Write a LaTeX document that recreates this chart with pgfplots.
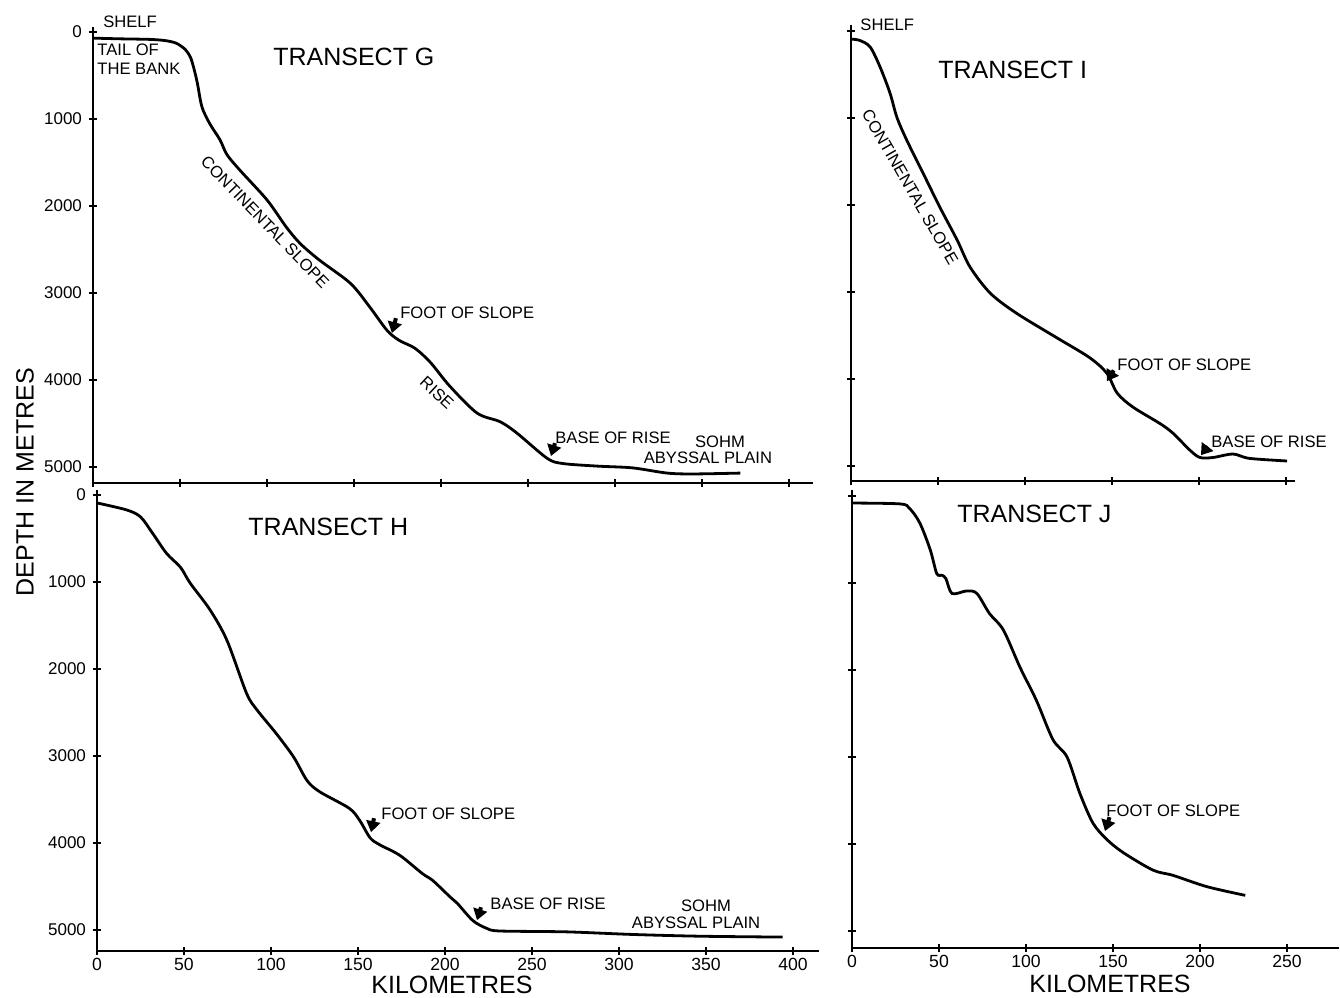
\documentclass[border=0pt]{standalone}
\usepackage{fontspec}
\setmainfont{Liberation Sans}
\usepackage{pgfplots}
\pgfplotsset{compat=1.18}
\usetikzlibrary{arrows.meta}

\pgfplotsset{
  transect/.style={
    scale only axis, anchor=south west,
    axis x line=bottom, axis y line=left,
    axis line style={line width=0.9pt, -},
    y dir=reverse, clip=false,
    xtick={0,50,...,400}, ytick={0,1000,...,5000},
    tick style={line width=0.8pt, black}, major tick length=4pt, tick align=center,
    /pgf/number format/1000 sep={}, /pgf/number format/assume math mode=true,
    yticklabel style={font=\fontsize{8.5}{10}\selectfont},
    xticklabel style={font=\fontsize{8.8}{10}\selectfont, yshift=2pt},
  },
  curve/.style={line width=1.4pt, black, smooth, tension=0.5, no marks},
}
\tikzset{
  ann/.style={font=\fontsize{8.3}{9.3}\selectfont, inner sep=0pt},
  ttl/.style={font=\fontsize{12.5}{14}\selectfont, inner sep=0pt},
  pt/.style={-{Triangle[width=7pt,length=5.5pt]}, line width=2pt},
}

\begin{document}
\begin{tikzpicture}
\useasboundingbox (0,0) rectangle (670pt,498.5pt);

% Transect G
\begin{axis}[transect, at={(46.5pt,257pt)},
  width=360.2pt, height=228.1pt,
  xmin=0, xmax=414, ymin=-60, ymax=5184,
  xticklabels={}]
\addplot[curve] coordinates {(0,70)(15,78)(33,85)(42,100)(48,130)(53,200)(56,290)(58,420)(60,590)(62.6,860)(67,1050)(73,1240)(77,1410)(84.5,1590)(100,1930)(111,2240)(119,2430)(130,2620)(148,2890)(159,3160)(169,3430)(176,3545)(185,3635)(194,3800)(205,4070)(220.7,4380)(234,4480)(243.6,4610)(261,4900)(270,4960)(290,4990)(310,5010)(330,5070)(345,5080)(372,5070)};
\node[ann, anchor=west] at (axis cs:5.7,-115) {SHELF};
\node[ann, anchor=west, align=left] at (axis cs:2.3,310) {TAIL OF\\THE BANK};
\node[ttl, anchor=west] at (axis cs:103.4,287) {TRANSECT G};
\node[ann, rotate=-46] at (axis cs:98.9,2184) {CONTINENTAL SLOPE};
\node[ann, anchor=west] at (axis cs:176.4,3230) {FOOT OF SLOPE};
\draw[pt] (axis cs:174.1,3290) -- (axis cs:171.8,3460);
\node[ann, rotate=-43] at (axis cs:197.7,4149) {RISE};
\node[ann, anchor=west] at (axis cs:265.5,4667) {BASE OF RISE};
\draw[pt] (axis cs:265.5,4726) -- (axis cs:263.2,4874);
\node[ann] at (axis cs:360.3,4713) {SOHM};
\node[ann] at (axis cs:353.4,4897) {ABYSSAL PLAIN};
\end{axis}

% Transect I
\begin{axis}[transect, at={(425.5pt,258pt)},
  width=221.85pt, height=227.9pt,
  xmin=0, xmax=255, ymin=-70, ymax=5170,
  xticklabels={}, yticklabels={}]
\addplot[curve] coordinates {(0,90)(5,105)(11,180)(16.7,410)(22.4,710)(26.4,990)(32,1250)(41.4,1630)(51,2020)(61,2400)(68.4,2710)(80,3010)(95,3240)(118,3520)(137,3750)(147,3930)(153,4160)(162,4320)(177.6,4510)(185,4620)(195,4820)(200.6,4900)(208,4900)(219.5,4860)(229,4910)(250.6,4940)};
\node[ann, anchor=west] at (axis cs:5.2,-80) {SHELF};
\node[ttl, anchor=west] at (axis cs:50,448) {TRANSECT I};
\node[ann, rotate=-60] at (axis cs:34,1790) {CONTINENTAL SLOPE};
\node[ann, anchor=west] at (axis cs:152.9,3839) {FOOT OF SLOPE};
\draw[pt] (axis cs:151,3898) -- (axis cs:147.1,4023);
\node[ann, anchor=west] at (axis cs:206.9,4724) {BASE OF RISE};
\draw[pt] (axis cs:205,4772) -- (axis cs:201.1,4874);
\end{axis}

% Transect H
\begin{axis}[transect, at={(48.5pt,23pt)},
  width=361.05pt, height=230.55pt,
  xmin=0, xmax=415, ymin=-60, ymax=5240]
\addplot[curve] coordinates {(0,90)(17,170)(25,250)(32,440)(40,670)(48,830)(53.5,1010)(65,1320)(74.7,1670)(86,2280)(92,2470)(103,2740)(113,3010)(120.7,3280)(128,3410)(145,3600)(151,3740)(157,3940)(162.6,4020)(174,4140)(187,4350)(193,4430)(203,4620)(207,4690)(216,4890)(224,4980)(231.6,5010)(270,5020)(308,5050)(346.5,5070)(394,5080)};
\node[ttl, anchor=west] at (axis cs:86.8,368) {TRANSECT H};
\node[ann, anchor=west] at (axis cs:163.2,3667) {FOOT OF SLOPE};
\draw[pt] (axis cs:159.2,3714) -- (axis cs:157.5,3874);
\node[ann, anchor=west] at (axis cs:225.9,4701) {BASE OF RISE};
\draw[pt] (axis cs:220.7,4737) -- (axis cs:218.4,4885);
\node[ann] at (axis cs:350,4724) {SOHM};
\node[ann] at (axis cs:344.3,4920) {ABYSSAL PLAIN};
\node[ttl] at (axis cs:204,5625) {KILOMETRES};
\node[ttl, rotate=90] at (axis cs:-41.4,-149) {DEPTH IN METRES};
\end{axis}

% Transect J
\begin{axis}[transect, at={(426pt,24.5pt)},
  width=243.6pt, height=229pt,
  xmin=0, xmax=280, ymin=-70, ymax=5195,
  xtick={0,50,...,250}, yticklabels={}]
\addplot[curve] coordinates {(0,80)(27.6,90)(33,140)(39,310)(45,620)(48.7,890)(51.7,910)(54,950)(57.5,1120)(66,1090)(71.8,1120)(79,1350)(87,1540)(96.6,1970)(106,2350)(115.5,2800)(123.6,3000)(131,3420)(138.5,3760)(146.6,3950)(156,4100)(173,4300)(184.5,4360)(204,4490)(226,4590)};
\node[ttl, anchor=west] at (axis cs:60.3,207) {TRANSECT J};
\node[ann, anchor=west] at (axis cs:146,3621) {FOOT OF SLOPE};
\draw[pt] (axis cs:148,3691) -- (axis cs:145.4,3851);
\node[ttl] at (axis cs:148.3,5610) {KILOMETRES};
\end{axis}
\end{tikzpicture}
\end{document}
